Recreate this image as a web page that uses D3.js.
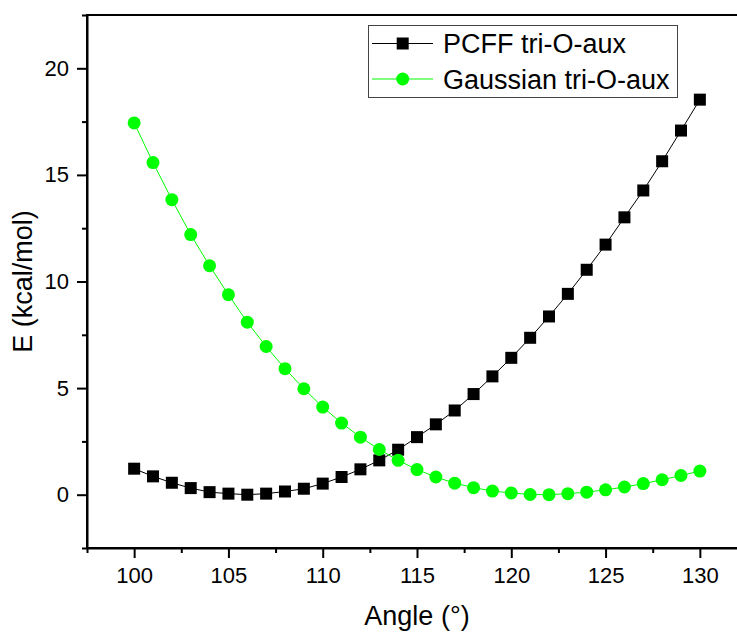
<!DOCTYPE html>
<html>
<head>
<meta charset="utf-8">
<script src="https://cdn.jsdelivr.net/npm/d3@7"></script>
<style>
    body { margin: 0; background: #fff; }
    text { font-family: "Liberation Sans", Arial, sans-serif; }
</style>
</head>
<body>
<script>
// angles (deg) and energies (kcal/mol)
var angles = [100, 101, 102, 103, 104, 105, 106, 107, 108, 109, 110,
              111, 112, 113, 114, 115, 116, 117, 118, 119, 120,
              121, 122, 123, 124, 125, 126, 127, 128, 129, 130];
var pcff = [1.22, 0.86, 0.56, 0.31, 0.12, 0.05, 0.00, 0.05, 0.15, 0.28, 0.52,
            0.83, 1.19, 1.61, 2.11, 2.70, 3.30, 3.95, 4.72, 5.55, 6.42,
            7.36, 8.36, 9.42, 10.55, 11.73, 13.01, 14.27, 15.64, 17.08, 18.53];
var gaussian = [17.44, 15.58, 13.84, 12.20, 10.74, 9.38, 8.09, 6.95, 5.91, 4.97, 4.11,
                3.36, 2.70, 2.12, 1.61, 1.18, 0.83, 0.54, 0.33, 0.17, 0.08,
                0.01, 0.00, 0.05, 0.12, 0.23, 0.36, 0.52, 0.70, 0.90, 1.11];
var seriesNames = ["PCFF tri-O-aux", "Gaussian tri-O-aux"];
var xTicks = [100, 105, 110, 115, 120, 125, 130];
var xMinor = [97.5, 102.5, 107.5, 112.5, 117.5, 122.5, 127.5, 132.5];
var yTicks = [0, 5, 10, 15, 20];
var yMinor = [-2.5, 2.5, 7.5, 12.5, 17.5, 22.5];

var margin = {top: 15, right: -10, bottom: 84, left: 87};
var W = 737, H = 632;
var width = W - margin.left - margin.right;
var height = H - margin.top - margin.bottom;

var svg = d3.select("body")
    .append("svg")
    .attr("width", W)
    .attr("height", H);

var g = svg.append("g")
    .attr("transform", `translate(${margin.left}, ${margin.top})`);

const x = d3.scaleLinear()
    .domain([97.5, 132.5])
    .range([0, width]);

const y = d3.scaleLinear()
    .domain([-2.5, 22.5])
    .range([height, 0]);

// frame
g.append("rect")
    .attr("width", width)
    .attr("height", height)
    .attr("fill", "none")
    .attr("stroke", "#000")
    .attr("stroke-width", 2);

// minor ticks
g.append("g")
    .attr("transform", `translate(0, ${height})`)
    .call(d3.axisBottom(x).tickValues(xMinor).tickSize(5).tickFormat("").tickSizeOuter(0))
    .call(a => a.select(".domain").remove())
    .selectAll("line").attr("stroke-width", 2);
g.append("g")
    .call(d3.axisLeft(y).tickValues(yMinor).tickSize(5).tickFormat("").tickSizeOuter(0))
    .call(a => a.select(".domain").remove())
    .selectAll("line").attr("stroke-width", 2);

// major axes
var xAxis = g.append("g")
    .attr("transform", `translate(0, ${height})`)
    .call(d3.axisBottom(x).tickValues(xTicks).tickSize(10).tickPadding(9).tickSizeOuter(0));
var yAxis = g.append("g")
    .call(d3.axisLeft(y).tickValues(yTicks).tickSize(10).tickPadding(8).tickSizeOuter(0));

[xAxis, yAxis].forEach(a => {
    a.select(".domain").attr("stroke-width", 2);
    a.selectAll("line").attr("stroke-width", 2);
    a.selectAll("text")
        .attr("font-size", 22)
        .attr("fill", "#000")
        .style("font-family", '"Liberation Sans", Arial, sans-serif');
});

// lines + markers
var pcffData = angles.map((a, i) => ({a: a, e: pcff[i]}));
var gaussData = angles.map((a, i) => ({a: a, e: gaussian[i]}));

var line = d3.line()
    .x(d => x(d.a))
    .y(d => y(d.e));

g.append("path")
    .datum(pcffData)
    .attr("fill", "none")
    .attr("stroke", "#000")
    .attr("stroke-width", 1)
    .attr("d", line);

g.selectAll(".sq")
    .data(pcffData)
    .enter()
    .append("rect")
    .attr("class", "sq")
    .attr("x", d => x(d.a) - 6)
    .attr("y", d => y(d.e) - 6)
    .attr("width", 12)
    .attr("height", 12)
    .attr("fill", "#000");

g.append("path")
    .datum(gaussData)
    .attr("fill", "none")
    .attr("stroke", "#00ff00")
    .attr("stroke-width", 1)
    .attr("d", line);

g.selectAll(".dot")
    .data(gaussData)
    .enter()
    .append("circle")
    .attr("class", "dot")
    .attr("cx", d => x(d.a))
    .attr("cy", d => y(d.e))
    .attr("r", 6.5)
    .attr("fill", "#00ff00");

// axis titles
g.append("text")
    .attr("x", (x(97.5) + x(132.5)) / 2)
    .attr("y", 625 - margin.top)
    .attr("text-anchor", "middle")
    .attr("font-size", 27)
    .text("Angle (°)");

g.append("text")
    .attr("transform", "rotate(-90)")
    .attr("x", -(height / 2))
    .attr("y", 32 - margin.left)
    .attr("text-anchor", "middle")
    .attr("font-size", 27)
    .text("E (kcal/mol)");

// legend
var legend = svg.append("g");
legend.append("rect")
    .attr("x", 368.5)
    .attr("y", 25.5)
    .attr("width", 309)
    .attr("height", 72)
    .attr("fill", "#fff")
    .attr("stroke", "#444")
    .attr("stroke-width", 1);

var rows = [43.5, 79];
seriesNames.forEach((name, i) => {
    var ly = rows[i];
    legend.append("line")
        .attr("x1", 372).attr("x2", 433)
        .attr("y1", ly).attr("y2", ly)
        .attr("stroke", i == 0 ? "#000" : "#00ff00")
        .attr("stroke-width", 1);
    if (i == 0) {
        legend.append("rect")
            .attr("x", 402.7 - 6).attr("y", ly - 6)
            .attr("width", 12).attr("height", 12)
            .attr("fill", "#000");
    } else {
        legend.append("circle")
            .attr("cx", 402.7).attr("cy", ly)
            .attr("r", 6.5)
            .attr("fill", "#00ff00");
    }
    legend.append("text")
        .attr("x", 443)
        .attr("y", ly + 9.5)
        .attr("font-size", 27)
        .text(name);
});
</script>
</body>
</html>
